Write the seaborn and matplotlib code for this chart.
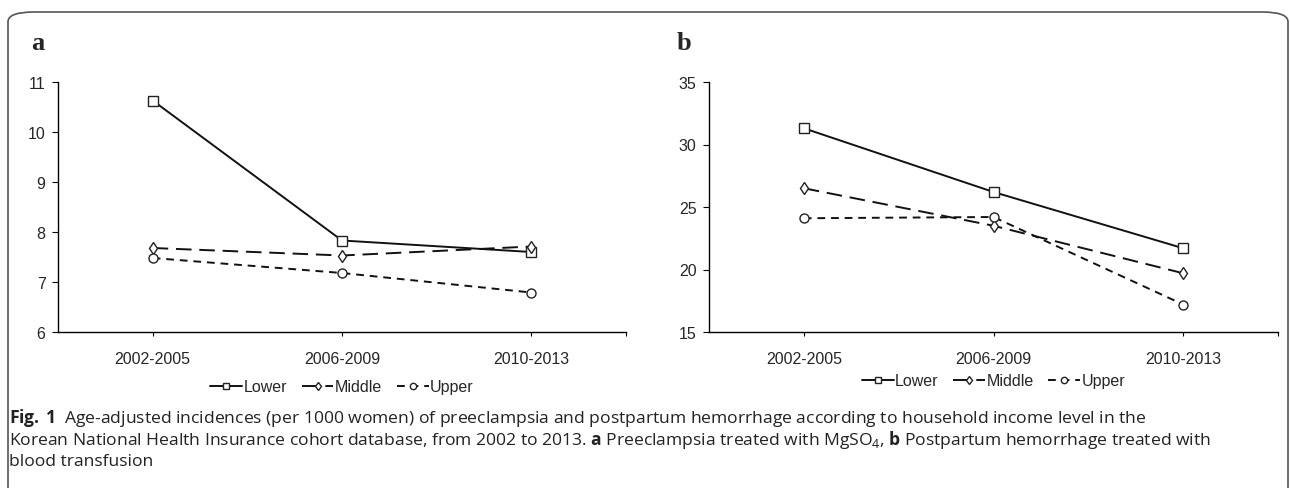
import pandas as pd
import matplotlib.pyplot as plt
import seaborn as sns
from matplotlib.patches import FancyBboxPatch


# Dados
periods = ["2002-2005", "2006-2009", "2010-2013"]
groups = ["Lower", "Middle", "Upper"]

# a: pré-eclâmpsia tratada com MgSO4
a_lower = [10.63, 7.83, 7.60]
a_middle = [7.68, 7.53, 7.71]
a_upper = [7.48, 7.18, 6.79]

# b: hemorragia pós-parto tratada com transfusão
b_lower = [31.3, 26.2, 21.7]
b_middle = [26.5, 23.5, 19.7]
b_upper = [24.1, 24.2, 17.2]


def long_df(lower, middle, upper):
    rows = []
    for g, vals in zip(groups, [lower, middle, upper]):
        for p, v in zip(periods, vals):
            rows.append({"Period": p, "Group": g, "Value": v})
    return pd.DataFrame(rows)


df_a = long_df(a_lower, a_middle, a_upper)
df_b = long_df(b_lower, b_middle, b_upper)

sns.set_style("white")
plt.rcParams["font.family"] = ["Liberation Sans", "DejaVu Sans"]
plt.rcParams["mathtext.fontset"] = "custom"
plt.rcParams["mathtext.rm"] = "Open Sans"
plt.rcParams["mathtext.bf"] = "Open Sans:bold"

fig = plt.figure(figsize=(12.9, 4.89), dpi=100)
ax_a = fig.add_axes([58 / 1290, 1 - 333 / 489, (626 - 58) / 1290, 250 / 489])
ax_b = fig.add_axes([709 / 1290, 1 - 333 / 489, (1278 - 709) / 1290, 250 / 489])

dashes = {"Lower": "", "Middle": (8, 4), "Upper": (4, 3)}
markers = {"Lower": "s", "Middle": "d", "Upper": "o"}
palette = {"Lower": "#111111", "Middle": "#111111", "Upper": "#111111"}

for ax, df, ylim, yticks, leg_y in [
    (ax_a, df_a, (6, 11), [6, 7, 8, 9, 10, 11], -0.22),
    (ax_b, df_b, (15, 35), [15, 20, 25, 30, 35], -0.195),
]:
    sns.lineplot(
        data=df, x="Period", y="Value", hue="Group", style="Group",
        palette=palette, dashes=dashes, markers=markers, legend=False,
        linewidth=1.4, markersize=6.5, markerfacecolor="white",
        markeredgecolor="#222222", markeredgewidth=1.0, ax=ax,
    )
    ax.set_xlim(-0.5, 2.5)
    ax.set_ylim(*ylim)
    ax.set_yticks(yticks)
    ax.set_xticks([0, 1, 2, 2.5])
    ax.set_xticklabels(periods + [""])
    ax.set_xlabel("")
    ax.set_ylabel("")
    sns.despine(ax=ax)
    for s in ["left", "bottom"]:
        ax.spines[s].set_color("black")
        ax.spines[s].set_linewidth(1.0)
    ax.tick_params(axis="both", which="major", direction="out", length=4,
                   width=0.8, color="black", labelsize=11.5, pad=5,
                   bottom=True, left=True)
    ax.tick_params(axis="x", length=3, pad=11)
    ax.patch.set_alpha(0)
    ax.legend(ax.lines, groups, loc="center", ncol=3, frameon=False,
              bbox_to_anchor=(0.5, leg_y),
              fontsize=11.5, handlelength=2.0, handletextpad=0.1,
              columnspacing=0.9, markerscale=0.7)

fig.text(31 / 1290, 1 - 43 / 489, "a", fontsize=19, fontweight="bold",
         family="Liberation Serif", va="center")
fig.text(677 / 1290, 1 - 43 / 489, "b", fontsize=19, fontweight="bold",
         family="Liberation Serif", va="center")

# Moldura arredondada
frame = FancyBboxPatch((8 / 1290, -0.2), 1280 / 1290, 1.2 - 13 / 489,
                       boxstyle="round,pad=0,rounding_size=0.02",
                       transform=fig.transFigure, fill=False,
                       edgecolor="#555555", linewidth=1.2, clip_on=False)
fig.patches.append(frame)

cap_kw = dict(fontsize=12.6, family="Open Sans", va="center", color="#222222")
fig.text(9 / 1290, 1 - 418 / 489,
         r"$\mathbf{Fig.\,1}$  Age-adjusted incidences (per 1000 women) of preeclampsia and "
         "postpartum hemorrhage according to household income level in the", **cap_kw)
fig.text(9 / 1290, 1 - 440 / 489,
         r"Korean National Health Insurance cohort database, from 2002 to 2013. "
         r"$\mathbf{a}$ Preeclampsia treated with MgSO$_4$, $\mathbf{b}$ Postpartum "
         "hemorrhage treated with", **cap_kw)
fig.text(9 / 1290, 1 - 462 / 489, "blood transfusion", **cap_kw)

plt.savefig("out.png", dpi=100)
